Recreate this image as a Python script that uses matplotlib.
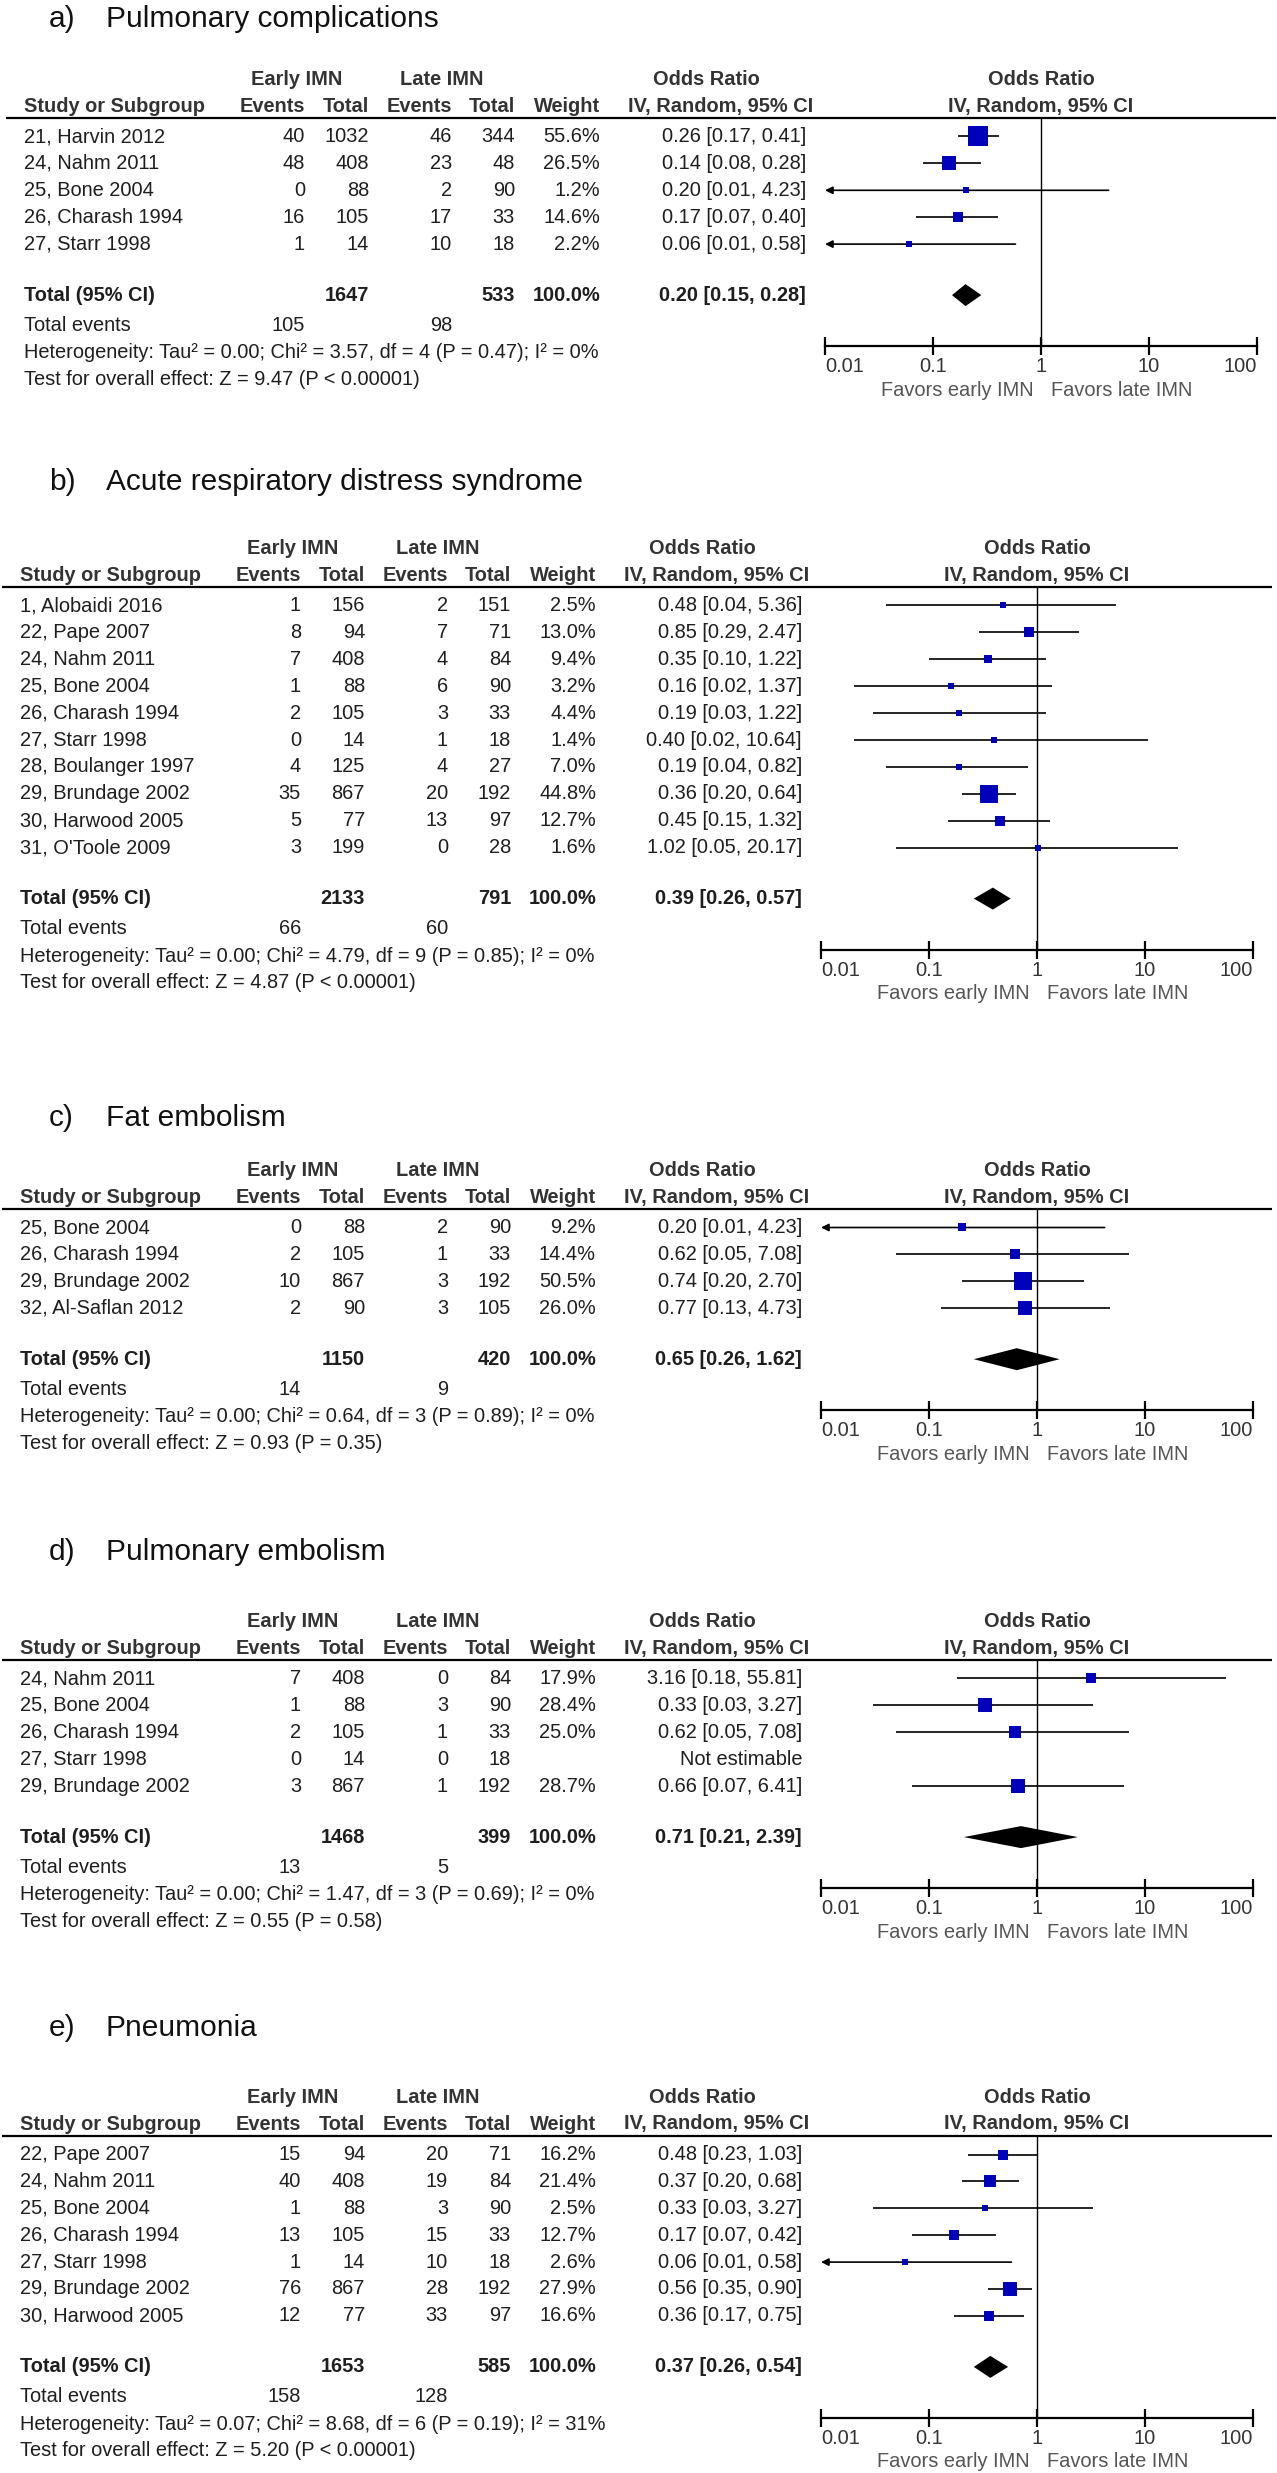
import numpy as np
import matplotlib
matplotlib.use('Agg')
import matplotlib.pyplot as plt
from matplotlib.ticker import NullLocator

plt.rcParams['font.family'] = ['Liberation Sans', 'DejaVu Sans']

W, H = 1277, 2473
FS = 14.4      # table text
TS = 21.5      # panel titles
BLUE = '#0000bb'
TXT = '#1e1e1e'
PX = 72 / 100  # points per pixel at dpi 100

# a) Pulmonary complications
a_study = ['21, Harvin 2012', '24, Nahm 2011', '25, Bone 2004', '26, Charash 1994', '27, Starr 1998']
a_early_ev = [40, 48, 0, 16, 1]
a_early_n = [1032, 408, 88, 105, 14]
a_late_ev = [46, 23, 2, 17, 10]
a_late_n = [344, 48, 90, 33, 18]
a_weight = [55.6, 26.5, 1.2, 14.6, 2.2]
a_or = [0.26, 0.14, 0.20, 0.17, 0.06]
a_lo = [0.17, 0.08, 0.01, 0.07, 0.01]
a_hi = [0.41, 0.28, 4.23, 0.40, 0.58]
a_totals = [1647, 533, 105, 98]
a_pooled = [0.20, 0.15, 0.28]
a_het = 'Heterogeneity: Tau² = 0.00; Chi² = 3.57, df = 4 (P = 0.47); I² = 0%'
a_test = 'Test for overall effect: Z = 9.47 (P < 0.00001)'

# b) Acute respiratory distress syndrome
b_study = ['1, Alobaidi 2016', '22, Pape 2007', '24, Nahm 2011', '25, Bone 2004', '26, Charash 1994',
           '27, Starr 1998', '28, Boulanger 1997', '29, Brundage 2002', '30, Harwood 2005', "31, O'Toole 2009"]
b_early_ev = [1, 8, 7, 1, 2, 0, 4, 35, 5, 3]
b_early_n = [156, 94, 408, 88, 105, 14, 125, 867, 77, 199]
b_late_ev = [2, 7, 4, 6, 3, 1, 4, 20, 13, 0]
b_late_n = [151, 71, 84, 90, 33, 18, 27, 192, 97, 28]
b_weight = [2.5, 13.0, 9.4, 3.2, 4.4, 1.4, 7.0, 44.8, 12.7, 1.6]
b_or = [0.48, 0.85, 0.35, 0.16, 0.19, 0.40, 0.19, 0.36, 0.45, 1.02]
b_lo = [0.04, 0.29, 0.10, 0.02, 0.03, 0.02, 0.04, 0.20, 0.15, 0.05]
b_hi = [5.36, 2.47, 1.22, 1.37, 1.22, 10.64, 0.82, 0.64, 1.32, 20.17]
b_totals = [2133, 791, 66, 60]
b_pooled = [0.39, 0.26, 0.57]
b_het = 'Heterogeneity: Tau² = 0.00; Chi² = 4.79, df = 9 (P = 0.85); I² = 0%'
b_test = 'Test for overall effect: Z = 4.87 (P < 0.00001)'

# c) Fat embolism
c_study = ['25, Bone 2004', '26, Charash 1994', '29, Brundage 2002', '32, Al-Saflan 2012']
c_early_ev = [0, 2, 10, 2]
c_early_n = [88, 105, 867, 90]
c_late_ev = [2, 1, 3, 3]
c_late_n = [90, 33, 192, 105]
c_weight = [9.2, 14.4, 50.5, 26.0]
c_or = [0.20, 0.62, 0.74, 0.77]
c_lo = [0.01, 0.05, 0.20, 0.13]
c_hi = [4.23, 7.08, 2.70, 4.73]
c_totals = [1150, 420, 14, 9]
c_pooled = [0.65, 0.26, 1.62]
c_het = 'Heterogeneity: Tau² = 0.00; Chi² = 0.64, df = 3 (P = 0.89); I² = 0%'
c_test = 'Test for overall effect: Z = 0.93 (P = 0.35)'

# d) Pulmonary embolism
d_study = ['24, Nahm 2011', '25, Bone 2004', '26, Charash 1994', '27, Starr 1998', '29, Brundage 2002']
d_early_ev = [7, 1, 2, 0, 3]
d_early_n = [408, 88, 105, 14, 867]
d_late_ev = [0, 3, 1, 0, 1]
d_late_n = [84, 90, 33, 18, 192]
d_weight = [17.9, 28.4, 25.0, np.nan, 28.7]
d_or = [3.16, 0.33, 0.62, np.nan, 0.66]
d_lo = [0.18, 0.03, 0.05, np.nan, 0.07]
d_hi = [55.81, 3.27, 7.08, np.nan, 6.41]
d_totals = [1468, 399, 13, 5]
d_pooled = [0.71, 0.21, 2.39]
d_het = 'Heterogeneity: Tau² = 0.00; Chi² = 1.47, df = 3 (P = 0.69); I² = 0%'
d_test = 'Test for overall effect: Z = 0.55 (P = 0.58)'

# e) Pneumonia
e_study = ['22, Pape 2007', '24, Nahm 2011', '25, Bone 2004', '26, Charash 1994', '27, Starr 1998',
           '29, Brundage 2002', '30, Harwood 2005']
e_early_ev = [15, 40, 1, 13, 1, 76, 12]
e_early_n = [94, 408, 88, 105, 14, 867, 77]
e_late_ev = [20, 19, 3, 15, 10, 28, 33]
e_late_n = [71, 84, 90, 33, 18, 192, 97]
e_weight = [16.2, 21.4, 2.5, 12.7, 2.6, 27.9, 16.6]
e_or = [0.48, 0.37, 0.33, 0.17, 0.06, 0.56, 0.36]
e_lo = [0.23, 0.20, 0.03, 0.07, 0.01, 0.35, 0.17]
e_hi = [1.03, 0.68, 3.27, 0.42, 0.58, 0.90, 0.75]
e_totals = [1653, 585, 158, 128]
e_pooled = [0.37, 0.26, 0.54]
e_het = 'Heterogeneity: Tau² = 0.07; Chi² = 8.68, df = 6 (P = 0.19); I² = 31%'
e_test = 'Test for overall effect: Z = 5.20 (P < 0.00001)'

fig = plt.figure(figsize=(W / 100, H / 100), dpi=100)
bg = fig.add_axes([0, 0, 1, 1])
bg.set_xlim(0, W)
bg.set_ylim(H, 0)
bg.axis('off')


def txt(x, y, s, ha='left', bold=False, color=TXT, size=FS):
    bg.text(x, y, s, ha=ha, va='center', fontsize=size, color=color,
            fontweight='bold' if bold else 'normal')


def panel(letter, title, title_y, R, dx, study, eev, en, lev, ln, wt, orr, lo, hi, totals, pooled, het, test):
    # column anchors
    x_name, x_eev, x_en, x_lev, x_ln, x_w, x_or = 20 + dx, 301 + dx, 365 + dx, 448 + dx, 511 + dx, 596 + dx, 802 + dx
    x0, x1 = 821 + dx, 1253 + dx

    txt(49, title_y, letter + ')', size=TS, color='#111')
    txt(106, title_y, title, size=TS, color='#111')

    h1, h2 = R - 38.5, R - 12
    hc = '#333'
    txt(293 + dx, h1, 'Early IMN', ha='center', bold=True, color=hc)
    txt(438 + dx, h1, 'Late IMN', ha='center', bold=True, color=hc)
    txt(702 + dx, h1, 'Odds Ratio', ha='center', bold=True, color=hc)
    txt((x0 + x1) / 2, h1, 'Odds Ratio', ha='center', bold=True, color=hc)
    txt(x_name, h2, 'Study or Subgroup', bold=True, color=hc)
    txt(x_eev, h2, 'Events', ha='right', bold=True, color=hc)
    txt(x_en, h2, 'Total', ha='right', bold=True, color=hc)
    txt(x_lev, h2, 'Events', ha='right', bold=True, color=hc)
    txt(x_ln, h2, 'Total', ha='right', bold=True, color=hc)
    txt(x_w, h2, 'Weight', ha='right', bold=True, color=hc)
    txt(717 + dx, h2, 'IV, Random, 95% CI', ha='center', bold=True, color=hc)
    txt((x0 + x1) / 2, h2, 'IV, Random, 95% CI', ha='center', bold=True, color=hc)
    bg.hlines(R, 2 + dx, 1272 + dx, color='k', lw=1.6)

    ys = [R + 18.5 + 26.9 * i for i in range(len(study))]
    for i, y in enumerate(ys):
        txt(x_name, y, study[i])
        txt(x_eev, y, str(eev[i]), ha='right')
        txt(x_en, y, str(en[i]), ha='right')
        txt(x_lev, y, str(lev[i]), ha='right')
        txt(x_ln, y, str(ln[i]), ha='right')
        if np.isnan(orr[i]):
            txt(x_or, y, 'Not estimable', ha='right')
        else:
            txt(x_w, y, f'{wt[i]:.1f}%', ha='right')
            txt(x_or, y, f'{orr[i]:.2f} [{lo[i]:.2f}, {hi[i]:.2f}]', ha='right')

    yt = ys[-1] + 51
    txt(x_name, yt, 'Total (95% CI)', bold=True)
    txt(x_en, yt, str(totals[0]), ha='right', bold=True)
    txt(x_ln, yt, str(totals[1]), ha='right', bold=True)
    txt(x_w, yt, '100.0%', ha='right', bold=True)
    txt(x_or, yt, f'{pooled[0]:.2f} [{pooled[1]:.2f}, {pooled[2]:.2f}]', ha='right', bold=True)
    ye = yt + 30
    txt(x_name, ye, 'Total events')
    txt(x_eev, ye, str(totals[2]), ha='right')
    txt(x_lev, ye, str(totals[3]), ha='right')
    txt(x_name, ye + 27.5, het)
    txt(x_name, ye + 54, test)

    # forest plot
    A = yt + 51
    ax = fig.add_axes([x0 / W, 1 - A / H, (x1 - x0) / W, (A - R) / H])
    ax.patch.set_alpha(0)
    ax.set_xscale('log')
    ax.set_xlim(0.01, 100)
    ax.set_ylim(A, R)
    for s in ['top', 'left', 'right']:
        ax.spines[s].set_visible(False)
    ax.spines['bottom'].set_linewidth(1.6)
    ax.set_yticks([])
    ax.set_xticks([0.01, 0.1, 1, 10, 100], labels=['0.01', '0.1', '1', '10', '100'])
    ax.xaxis.set_minor_locator(NullLocator())
    ax.tick_params(axis='x', direction='inout', length=13, width=1.6, pad=1.5,
                   labelsize=FS, labelcolor='#333')
    labs = ax.get_xticklabels()
    labs[0].set_ha('left')
    labs[-1].set_ha('right')
    ax.axvline(1, color='k', lw=1.0, zorder=1)

    for i, y in enumerate(ys):
        if np.isnan(orr[i]):
            continue
        if lo[i] < 0.01 or np.isclose(lo[i], 0.01):
            ax.annotate('', xy=(0.01, y), xytext=(hi[i], y),
                        arrowprops=dict(arrowstyle='-|>', color='k', lw=1.2,
                                        mutation_scale=11, shrinkA=0, shrinkB=0))
        else:
            ax.hlines(y, lo[i], hi[i], color='k', lw=1.2, zorder=2)
        side = max(5.5, 2.55 * np.sqrt(wt[i]))
        ax.plot(orr[i], y, marker='s', ms=side * PX, color=BLUE, mew=0, zorder=3)

    ax.fill([pooled[1], pooled[0], pooled[2], pooled[0]], [yt, yt - 11, yt, yt + 11],
            color='k', lw=0, zorder=3)

    ax.annotate('Favors early IMN', xy=(1, 0), xycoords=('data', 'axes fraction'),
                xytext=(-7 * PX, -44 * PX), textcoords='offset points',
                ha='right', va='center', fontsize=FS, color='#555')
    ax.annotate('Favors late IMN', xy=(1, 0), xycoords=('data', 'axes fraction'),
                xytext=(10 * PX, -44 * PX), textcoords='offset points',
                ha='left', va='center', fontsize=FS, color='#555')


panel('a', 'Pulmonary complications', 19, 118, 4, a_study, a_early_ev, a_early_n, a_late_ev, a_late_n,
      a_weight, a_or, a_lo, a_hi, a_totals, a_pooled, a_het, a_test)
panel('b', 'Acute respiratory distress syndrome', 482, 587, 0, b_study, b_early_ev, b_early_n, b_late_ev,
      b_late_n, b_weight, b_or, b_lo, b_hi, b_totals, b_pooled, b_het, b_test)
panel('c', 'Fat embolism', 1118, 1209, 0, c_study, c_early_ev, c_early_n, c_late_ev, c_late_n,
      c_weight, c_or, c_lo, c_hi, c_totals, c_pooled, c_het, c_test)
panel('d', 'Pulmonary embolism', 1552, 1660, 0, d_study, d_early_ev, d_early_n, d_late_ev, d_late_n,
      d_weight, d_or, d_lo, d_hi, d_totals, d_pooled, d_het, d_test)
panel('e', 'Pneumonia', 2028, 2136, 0, e_study, e_early_ev, e_early_n, e_late_ev, e_late_n,
      e_weight, e_or, e_lo, e_hi, e_totals, e_pooled, e_het, e_test)

fig.savefig('out.png', dpi=100)
